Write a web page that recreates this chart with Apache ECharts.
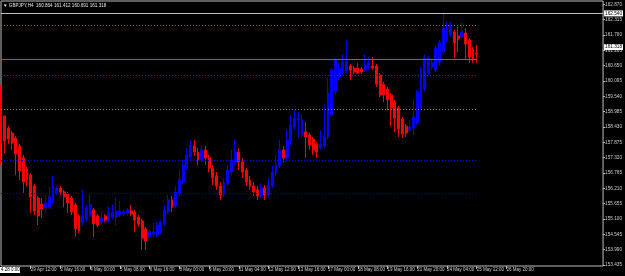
<!DOCTYPE html>
<html><head><meta charset="utf-8">
<script src="https://cdn.jsdelivr.net/npm/echarts@6/dist/echarts.min.js"></script>
<style>html,body{margin:0;padding:0;background:#000;}#c{width:625px;height:276px;}</style>
</head><body><div id="c"></div>
<script>
const headerText = '\u25BC GBPJPY,H4  160.864 161.412 160.691 161.318';
const cornerLabel = '4.28 0:00';
const timeLabels = ['29 Apr 12:00','2 May 16:00','4 May 00:00','5 May 08:00','6 May 16:00','8 May 00:00','9 May 20:00','11 May 04:00','12 May 12:00','13 May 16:00','17 May 00:00','18 May 08:00','19 May 16:00','21 May 20:00','24 May 04:00','25 May 12:00','26 May 20:00'];
const priceTicks = [162.870,162.315,161.760,161.205,160.650,160.095,159.540,158.985,158.430,157.875,157.320,156.765,156.210,155.655,155.100,154.545,153.990,153.435];
const totalSlots = 163;

const openP = [159.88,158.83,158.39,158.21,158.03,157.74,157.31,156.91,156.69,156.29,155.86,155.64,155.50,155.53,155.71,156.04,156.22,156.08,156.00,155.86,
155.61,155.21,154.96,155.10,155.24,155.43,155.21,154.99,155.21,155.03,155.17,155.17,155.24,155.28,155.32,155.39,155.35,155.17,155.03,154.74,
154.45,154.56,154.52,154.63,154.92,155.35,155.79,155.57,156.04,156.44,156.94,157.34,157.74,157.52,157.24,157.60,157.31,156.94,156.66,156.29,
156.00,156.37,156.80,157.16,157.52,157.16,156.87,156.51,156.29,156.15,155.93,156.22,155.97,156.29,156.76,157.02,157.60,157.31,157.89,158.43,
158.68,158.14,158.25,158.14,157.99,157.81,157.67,157.74,158.07,158.86,159.70,160.24,160.38,160.46,160.64,160.56,160.56,160.53,160.49,160.56,
160.64,160.64,160.31,159.98,159.80,159.59,159.33,159.12,158.72,158.46,158.32,158.39,158.58,159.12,159.80,160.38,160.60,160.49,160.78,161.14,
161.58,161.76,161.87,161.72,161.69,161.83,161.58,161.25,161.11];
const highP = [159.95,158.83,158.47,158.28,158.10,157.81,157.42,156.98,156.76,156.37,155.93,155.86,155.97,156.26,156.66,156.29,156.29,156.15,156.08,155.93,
155.68,155.28,156.15,155.61,155.97,155.50,155.28,155.35,155.28,155.53,155.61,155.86,155.75,155.43,155.50,155.61,155.43,155.24,155.10,154.81,
154.70,154.96,155.00,155.06,155.61,155.97,155.93,156.29,156.87,157.24,157.67,157.96,157.96,157.67,157.78,157.74,157.42,157.05,156.80,156.44,
156.58,157.05,157.60,157.96,157.67,157.31,156.94,156.66,156.44,156.29,156.37,156.33,156.58,157.02,157.42,157.96,157.74,158.32,158.86,159.04,
158.97,158.86,158.61,158.21,158.07,157.89,158.32,159.23,160.20,160.56,160.93,160.74,161.04,161.58,160.71,160.64,160.74,160.60,161.04,160.93,
160.96,160.71,160.38,160.06,159.88,159.66,159.41,159.19,158.79,158.54,158.68,159.41,159.77,160.60,161.04,161.00,160.85,161.40,161.58,162.55,
162.23,162.23,161.94,162.05,162.19,162.01,161.65,161.32,161.40];
const lowP = [157.05,157.49,157.81,157.60,156.69,156.51,156.04,156.26,155.32,155.24,154.88,155.14,155.32,155.46,155.64,155.97,155.97,155.53,155.32,155.24,
154.45,154.59,154.88,155.03,155.17,154.45,154.81,154.92,154.99,154.96,155.10,154.88,155.17,155.21,155.24,155.21,154.63,154.81,153.98,153.98,
154.38,154.48,154.45,154.56,154.85,155.28,155.35,155.50,155.93,156.37,156.87,157.24,157.38,157.05,157.16,157.05,156.80,156.33,156.15,155.79,
155.90,156.29,156.69,157.05,156.87,156.58,156.29,156.15,155.93,155.79,155.86,155.79,155.90,156.22,156.66,156.94,157.16,157.24,157.78,158.32,
158.03,158.07,157.31,157.60,157.42,157.31,157.60,157.67,157.99,158.79,159.59,160.13,160.31,160.38,160.13,160.35,160.35,160.35,160.42,160.49,
160.49,159.88,159.51,159.33,159.04,158.46,158.25,158.07,158.03,158.07,158.25,158.14,158.50,159.04,159.70,160.31,160.49,160.42,160.67,161.04,
161.50,161.69,160.93,161.14,161.61,160.89,160.75,160.75,160.75];
const closeP = [157.85,157.92,157.99,157.85,157.45,156.84,156.44,156.51,155.90,155.39,155.21,155.46,155.68,155.90,156.29,156.22,156.08,155.90,155.68,155.35,
154.74,154.66,155.21,155.50,155.61,154.92,154.88,155.14,155.06,155.32,155.35,155.39,155.39,155.35,155.43,155.28,155.06,154.92,154.41,154.30,
154.63,154.63,154.88,154.99,155.43,155.79,155.53,156.08,156.51,157.05,157.42,157.78,157.52,157.24,157.60,157.31,156.94,156.58,156.29,155.97,
156.40,156.87,157.24,157.52,157.16,156.80,156.44,156.29,156.08,155.93,156.22,155.97,156.33,156.80,157.05,157.60,157.31,157.96,158.50,158.75,
158.75,158.68,158.07,157.78,157.60,157.52,157.81,158.07,159.66,160.49,160.85,160.56,160.78,160.78,160.49,160.42,160.38,160.42,160.67,160.75,
160.56,159.98,159.59,159.59,159.41,159.12,158.75,158.36,158.18,158.21,158.43,158.79,159.70,160.53,160.93,160.93,160.75,161.29,161.50,162.01,
162.01,162.12,161.47,161.61,161.87,161.43,160.96,160.89,161.07];

const fullLinePrices = [162.54];
const bidPrice = 161.318;
const partialLinePrices = [162.12, 160.87, 160.29, 159.06, 157.235, 156.02];
const partialLineStyles = [
  {color:'#b5603a', type:[1,2]},
  {color:'#ff00ff', type:'solid'},
  {color:'#800080', type:[1,2]},
  {color:'#8a8a8a', type:[1,2]},
  {color:'#0000ff', type:[1,2]},
  {color:'#000080', type:[1,2]}
];

const categories = [];
for (let i = 0; i < totalSlots; i++) categories.push('b' + i);
const candles = openP.map((o, i) => [o, closeP[i], lowP[i], highP[i]]);
const lastIdx = openP.length - 1;

const labelInterval = (idx) => idx > 0 && idx % 8 === 0 && (idx / 8) <= timeLabels.length;
const boxLabel = (txt) => ({show:true, position:'end', formatter: txt, color:'#000', backgroundColor:'#fff', fontSize:4.7, padding:[1,1,0,1], distance:1, fontFamily:'Liberation Sans', opacity:1});

const markData = [];
fullLinePrices.forEach(p => markData.push({
  yAxis: p, lineStyle: {color:'#c0c0c0', width:1, type:'solid'}, label: boxLabel(p.toFixed(3))
}));
markData.push({
  yAxis: bidPrice, lineStyle: {color:'rgba(0,0,0,0)', width:1}, label: boxLabel(bidPrice.toFixed(3))
});
partialLinePrices.forEach((p, k) => markData.push([
  {coord:[0, p], lineStyle:{color:partialLineStyles[k].color, width:1, type:partialLineStyles[k].type}, label:{show:false}},
  {coord:[lastIdx, p]}
]));

const chart = echarts.init(document.getElementById('c'), null, {renderer:'canvas'});
chart.setOption({
  backgroundColor:'#000',
  animation:false,
  grid:{left:1, right:20, top:1, bottom:10, show:true, borderColor:'#bdbdbd', borderWidth:1, backgroundColor:'#000'},
  xAxis:{
    type:'category', data:categories, boundaryGap:false,
    axisLine:{show:false},
    axisTick:{show:true, interval:labelInterval, length:3, lineStyle:{color:'#bdbdbd'}},
    axisLabel:{show:true, interval:labelInterval, align:'left', margin:1, fontSize:4.5, color:'#cfcfcf', fontFamily:'Liberation Sans',
      formatter:(v, idx) => timeLabels[idx / 8 - 1] || ''},
    splitLine:{show:false}
  },
  yAxis:{
    type:'value', position:'right', min:153.398, max:162.989, scale:true,
    axisLine:{show:false},
    axisTick:{show:true, length:2, customValues:priceTicks, lineStyle:{color:'#bdbdbd'}},
    axisLabel:{show:true, customValues:priceTicks, margin:2, fontSize:4.7, color:'#cfcfcf', fontFamily:'Liberation Sans',
      formatter:(v) => v.toFixed(3)},
    splitLine:{show:false}
  },
  series:[{
    type:'candlestick', data:candles, barWidth:2.4, clip:true,
    itemStyle:{color:'#0000ff', color0:'#ff0000', borderColor:'#0000ff', borderColor0:'#ff0000', borderWidth:1},
    markLine:{silent:true, symbol:['none','none'], animation:false, data:markData}
  }],
  graphic:[
    {type:'text', left:3, top:3, style:{text:headerText, fill:'#e6e6e6', fontSize:4.6, fontFamily:'Liberation Sans'}},
    {type:'group', left:0, top:267, children:[
      {type:'rect', shape:{x:0, y:0, width:20, height:6}, style:{fill:'#fff'}},
      {type:'text', style:{x:1, y:0.5, text:cornerLabel, fill:'#000', fontSize:4.5, fontFamily:'Liberation Sans'}}
    ]}
  ]
});
</script></body></html>
